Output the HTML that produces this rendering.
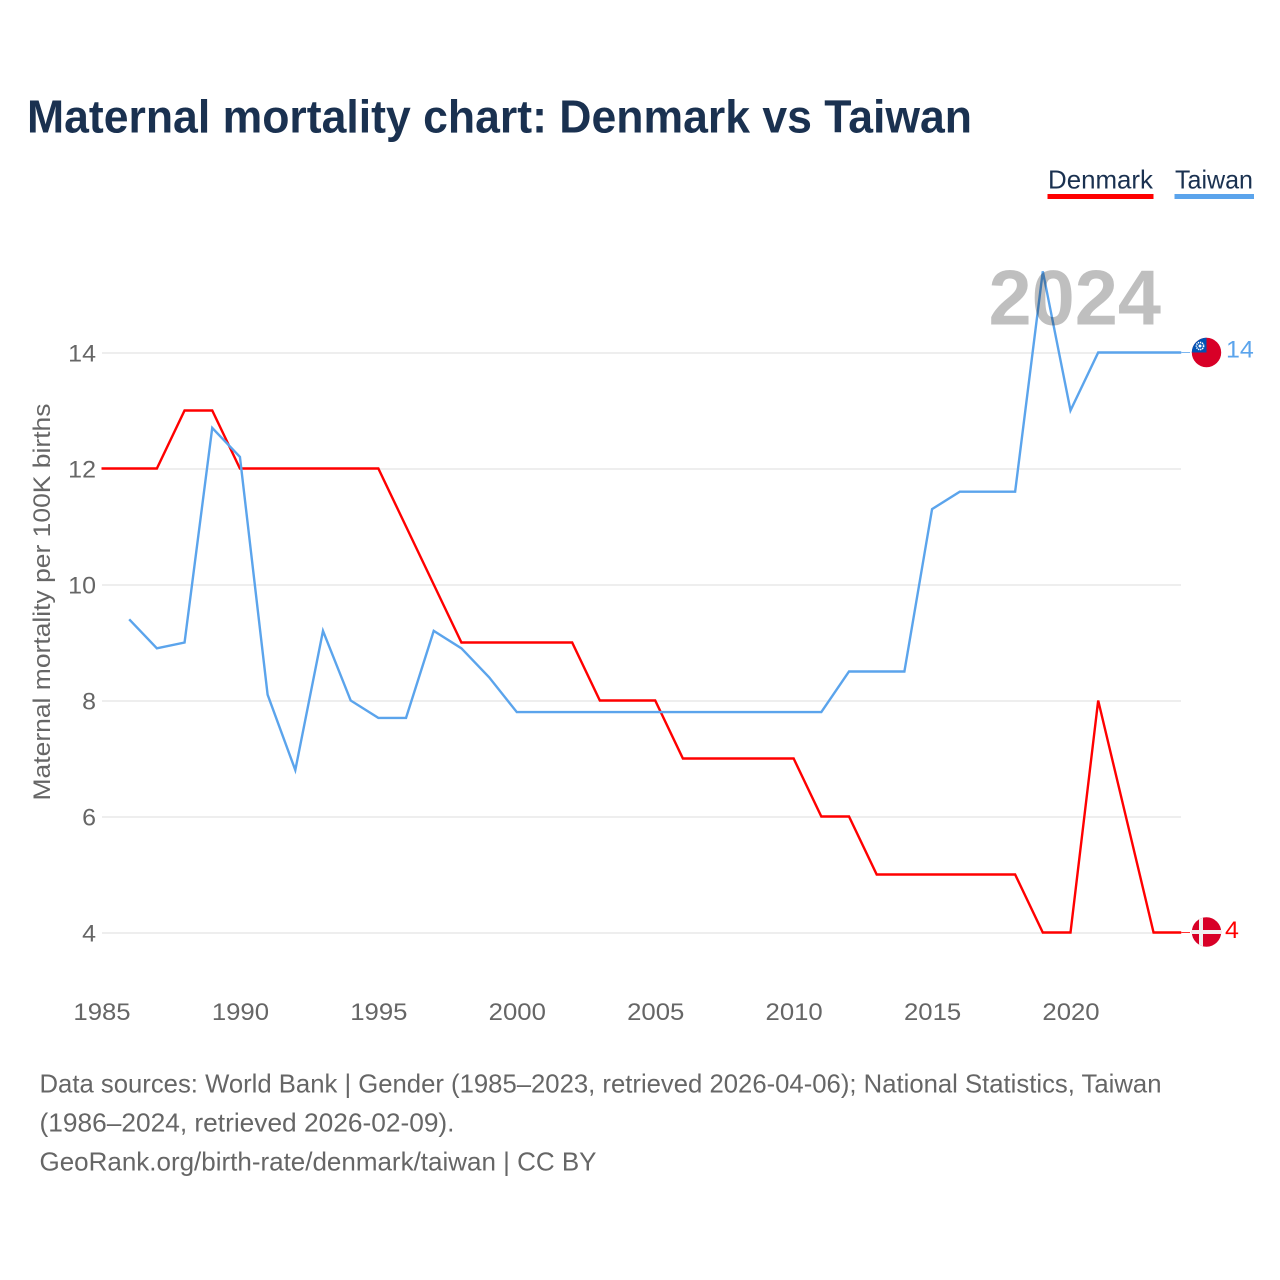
<!DOCTYPE html>
<html lang="en">
<head>
<meta charset="utf-8">
<title>Maternal mortality chart: Denmark vs Taiwan</title>
<style>
html,body{margin:0;padding:0;background:#fff;}
svg{display:block;font-family:"Liberation Sans",sans-serif;}
</style>
</head>
<body>
<svg id="chart" width="1280" height="1280" viewBox="0 0 1280 1280" xmlns="http://www.w3.org/2000/svg">
  <defs>
    <clipPath id="tw-clip"><circle cx="1206.5" cy="352.5" r="14.7"/></clipPath>
    <clipPath id="dk-clip"><circle cx="1206.5" cy="932" r="14.7"/></clipPath>
  </defs>
  <rect width="1280" height="1280" fill="#fff"/>
  <text x="27" y="132.5" font-size="46" font-weight="700" fill="#1a3150" textLength="945" lengthAdjust="spacingAndGlyphs">Maternal mortality chart: Denmark vs Taiwan</text>

  <g>
    <g>
      <text x="1048" y="188.5" font-size="26" fill="#1a3150" textLength="105" lengthAdjust="spacingAndGlyphs">Denmark</text>
      <rect x="1047.5" y="194" width="106" height="5" fill="#ff0000"/>
    </g>
    <g>
      <text x="1175" y="188.5" font-size="26" fill="#1a3150" textLength="78" lengthAdjust="spacingAndGlyphs">Taiwan</text>
      <rect x="1174.5" y="194" width="79.5" height="5" fill="#5ba4ec"/>
    </g>
  </g>

  <g id="grid"></g>
  <g id="yticks"></g>
  <g id="xticks"></g>
  <text transform="translate(50,800.5) rotate(-90)" x="0" y="0" font-size="24" fill="#666666" textLength="397" lengthAdjust="spacingAndGlyphs">Maternal mortality per 100K births</text>

  <g id="series"></g>

  <text x="988.5" y="324.5" font-size="78" font-weight="700" fill="#000" fill-opacity="0.25" textLength="172.5" lengthAdjust="spacingAndGlyphs">2024</text>

  <g clip-path="url(#tw-clip)">
    <rect x="1191" y="337" width="31" height="31" fill="#d80027"/>
    <rect x="1191" y="337" width="15.5" height="15.5" fill="#0052b4"/>
    <circle cx="1200" cy="346" r="3.6" fill="none" stroke="#fff" stroke-width="1.6" stroke-dasharray="1.3 0.8"/>
    <circle cx="1200" cy="346" r="1.5" fill="#fff"/>
  </g>
  <g clip-path="url(#dk-clip)">
    <rect x="1191" y="917" width="31" height="31" fill="#d80027"/>
    <rect x="1199" y="917" width="4" height="31" fill="#f0f0f0"/>
    <rect x="1191" y="930" width="31" height="4" fill="#f0f0f0"/>
  </g>

  <g id="end-labels"></g>

  <g font-size="26" fill="#666666">
    <text x="39.5" y="1092.5" textLength="1122" lengthAdjust="spacingAndGlyphs">Data sources: World Bank | Gender (1985–2023, retrieved 2026-04-06); National Statistics, Taiwan</text>
    <text x="39.5" y="1131.5" textLength="415" lengthAdjust="spacingAndGlyphs">(1986–2024, retrieved 2026-02-09).</text>
    <text x="39.5" y="1170.5" textLength="557" lengthAdjust="spacingAndGlyphs">GeoRank.org/birth-rate/denmark/taiwan | CC BY</text>
  </g>
</svg>
<script>
const xTickLabels = [1985, 1990, 1995, 2000, 2005, 2010, 2015, 2020];
const yTickLabels = [4, 6, 8, 10, 12, 14];
const denmarkStartYear = 1985;
const denmarkValues = [12, 12, 12, 13, 13, 12, 12, 12, 12, 12, 12, 11, 10, 9, 9, 9, 9, 9, 8, 8, 8, 7, 7, 7, 7, 7, 6, 6, 5, 5, 5, 5, 5, 5, 4, 4, 8, 6, 4];
const taiwanStartYear = 1986;
const taiwanValues = [9.4, 8.9, 9.0, 12.7, 12.2, 8.1, 6.8, 9.2, 8.0, 7.7, 7.7, 9.2, 8.9, 8.4, 7.8, 7.8, 7.8, 7.8, 7.8, 7.8, 7.8, 7.8, 7.8, 7.8, 7.8, 7.8, 8.5, 8.5, 8.5, 11.3, 11.6, 11.6, 11.6, 15.4, 13, 14, 14, 14, 14];
const endYear = 2024;

const NS = 'http://www.w3.org/2000/svg';
function xScale(year) { return 101.5 + (year - 1985) * (969 / 35); }
function yScale(v) { return 932.5 - (v - 4) * 58; }
function make(tag, parent, attrs) {
  const el = document.createElementNS(NS, tag);
  for (const k in attrs) el.setAttribute(k, attrs[k]);
  parent.appendChild(el);
  return el;
}
const grid = document.getElementById('grid');
const yticks = document.getElementById('yticks');
const xticks = document.getElementById('xticks');
const series = document.getElementById('series');
const endLabels = document.getElementById('end-labels');

yTickLabels.forEach(function (t) {
  const gy = yScale(t) + 0.5;
  const line = make('line', grid, { x1: 102, x2: 1181, y1: gy, y2: gy, stroke: '#e9e9e9', 'stroke-width': 1.5 });
  
  
  const label = make('text', yticks, { x: 96, y: gy + 8.5, 'font-size': 24, fill: '#666666', 'text-anchor': 'end', textLength: String(t).length * 13.9, lengthAdjust: 'spacingAndGlyphs' });
  label.textContent = t;
  
  
});

xTickLabels.forEach(function (t) {
  const label = make('text', xticks, { x: xScale(t) + 0.5, y: 1020, 'font-size': 24, fill: '#666666', 'text-anchor': 'middle', textLength: String(t).length * 14.3, lengthAdjust: 'spacingAndGlyphs' });
  label.textContent = t;
  
  
});

function drawSeries(name, startYear, values, color) {
  const pts = values.map(function (v, i) { return xScale(startYear + i).toFixed(2) + ',' + yScale(v).toFixed(2); });
  const lastVal = values[values.length - 1];
  const lastYear = startYear + values.length - 1;
  const axisEnd = xScale(endYear);
  if (lastYear < endYear) pts.push(axisEnd.toFixed(2) + ',' + yScale(lastVal).toFixed(2));
  const connector = make('line', series, { x1: axisEnd, x2: 1190, y1: yScale(lastVal), y2: yScale(lastVal), stroke: color, 'stroke-width': 1, 'stroke-opacity': 0.8 });
  
  
  const line = make('polyline', series, { points: pts.join(' '), fill: 'none', stroke: color, 'stroke-width': 2.4, 'stroke-linejoin': 'miter' });
  
  
  return lastVal;
}
const denmarkLast = drawSeries('denmark', denmarkStartYear, denmarkValues, '#ff0000');
const taiwanLast = drawSeries('taiwan', taiwanStartYear, taiwanValues, '#5ba4ec');

const twLabel = make('text', endLabels, { x: 1226, y: yScale(taiwanLast) + 5, 'font-size': 24, fill: '#5ba4ec', textLength: String(taiwanLast).length * 13.9, lengthAdjust: 'spacingAndGlyphs' });
twLabel.textContent = taiwanLast;


const dkLabel = make('text', endLabels, { x: 1225, y: yScale(denmarkLast) + 5.5, 'font-size': 24, fill: '#ff0000', textLength: String(denmarkLast).length * 13.9, lengthAdjust: 'spacingAndGlyphs' });
dkLabel.textContent = denmarkLast;


</script>
</body>
</html>
